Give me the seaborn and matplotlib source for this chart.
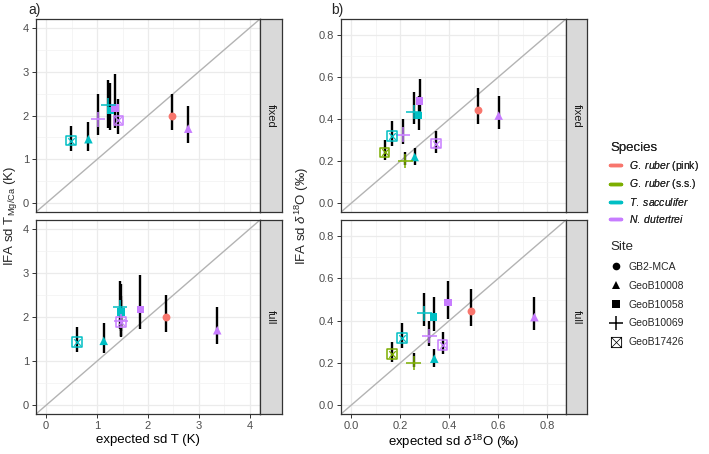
import matplotlib
matplotlib.use("Agg")
import matplotlib.pyplot as plt
from matplotlib.lines import Line2D
import numpy as np
import pandas as pd
import seaborn as sns

# ---- data ----
species_names = ["G. ruber (pink)", "G. ruber (s.s.)", "T. sacculifer", "N. dutertrei"]
site_names = ["GB2-MCA", "GeoB10008", "GeoB10058", "GeoB10069", "GeoB17426"]

# panel a: temperature
t_species = ["G. ruber (pink)", "T. sacculifer", "T. sacculifer", "T. sacculifer", "T. sacculifer",
             "N. dutertrei", "N. dutertrei", "N. dutertrei", "N. dutertrei"]
t_site = ["GB2-MCA", "GeoB10008", "GeoB10058", "GeoB10069", "GeoB17426",
          "GeoB10008", "GeoB10058", "GeoB10069", "GeoB17426"]
t_exp_fixed = [2.48, 0.83, 1.26, 1.22, 0.49, 2.79, 1.35, 1.02, 1.42]
t_exp_full = [2.35, 1.13, 1.47, 1.45, 0.60, 3.36, 1.85, 1.47, 1.47]
t_ifa = [2.00, 1.46, 2.11, 2.23, 1.43, 1.70, 2.17, 1.91, 1.89]
t_lo = [1.67, 1.18, 1.68, 1.72, 1.20, 1.38, 1.72, 1.55, 1.58]
t_hi = [2.50, 1.86, 2.74, 2.81, 1.77, 2.22, 2.95, 2.48, 2.38]

# panel b: d18O
o_species = ["G. ruber (pink)", "G. ruber (s.s.)", "G. ruber (s.s.)", "T. sacculifer", "T. sacculifer",
             "T. sacculifer", "T. sacculifer", "N. dutertrei", "N. dutertrei", "N. dutertrei", "N. dutertrei"]
o_site = ["GB2-MCA", "GeoB10069", "GeoB17426", "GeoB10008", "GeoB10058",
          "GeoB10069", "GeoB17426", "GeoB10008", "GeoB10058", "GeoB10069", "GeoB17426"]
o_exp_fixed = [0.516, 0.221, 0.136, 0.259, 0.275, 0.255, 0.166, 0.602, 0.279, 0.211, 0.347]
o_exp_full = [0.489, 0.255, 0.166, 0.339, 0.337, 0.298, 0.207, 0.748, 0.395, 0.319, 0.373]
o_ifa = [0.444, 0.200, 0.242, 0.220, 0.417, 0.435, 0.319, 0.417, 0.486, 0.327, 0.284]
o_lo = [0.375, 0.180, 0.205, 0.180, 0.350, 0.375, 0.270, 0.355, 0.410, 0.280, 0.240]
o_hi = [0.550, 0.245, 0.300, 0.265, 0.510, 0.530, 0.390, 0.510, 0.590, 0.400, 0.345]

palette = dict(zip(species_names, ["#F8766D", "#7CAE00", "#00BFC4", "#C77CFF"]))
legend_labels = [r"$\it{G.\ ruber}$ (pink)", r"$\it{G.\ ruber}$ (s.s.)",
                 r"$\it{T.\ sacculifer}$", r"$\it{N.\ dutertrei}$"]

sns.set_theme(style="white")
plt.rcParams["font.family"] = ["Liberation Sans", "DejaVu Sans"]
plt.rcParams["mathtext.fontset"] = "custom"
plt.rcParams["mathtext.rm"] = "Liberation Sans"
plt.rcParams["mathtext.it"] = "Liberation Sans:italic"

W, H = 709, 454
fig = plt.figure(figsize=(W / 100, H / 100), dpi=100)


def box(x0, y0, x1, y1):
    return [x0 / W, 1 - y1 / H, (x1 - x0) / W, (y1 - y0) / H]


def draw_points(ax, df, xcol):
    ax.vlines(df[xcol], df["lo"], df["hi"], color="black", lw=1.7, zorder=3)
    for site, g in df.groupby("site"):
        if site == "GB2-MCA":
            sns.scatterplot(data=g, x=xcol, y="ifa", hue="species", palette=palette, marker="o",
                            s=32, linewidth=0, legend=False, ax=ax, zorder=4)
        elif site == "GeoB10008":
            sns.scatterplot(data=g, x=xcol, y="ifa", hue="species", palette=palette, marker="^",
                            s=38, linewidth=0, legend=False, ax=ax, zorder=4)
        elif site == "GeoB10058":
            sns.scatterplot(data=g, x=xcol, y="ifa", hue="species", palette=palette, marker="s",
                            s=28, linewidth=0, legend=False, ax=ax, zorder=4)
        elif site == "GeoB10069":
            sns.scatterplot(data=g, x=xcol, y="ifa", hue="species", palette=palette, marker="+",
                            s=110, linewidth=1.1, legend=False, ax=ax, zorder=4)
        else:
            for _, r in g.iterrows():
                c = palette[r["species"]]
                ax.scatter(r[xcol], r["ifa"], marker="s", s=48, facecolor="none",
                           edgecolor=c, linewidth=1.1, zorder=4)
                ax.scatter(r[xcol], r["ifa"], marker="x", s=22, color=c,
                           linewidth=0.9, zorder=4)


def style_panel(ax, lim, ticks, minor, show_x):
    ax.set_xlim(lim)
    ax.set_ylim(lim)
    ax.set_xticks(ticks)
    ax.set_yticks(ticks)
    ax.set_xticks(minor, minor=True)
    ax.set_yticks(minor, minor=True)
    ax.grid(which="major", color="#EBEBEB", lw=0.9)
    ax.grid(which="minor", color="#F2F2F2", lw=0.5)
    ax.set_axisbelow(True)
    ax.axline((0, 0), slope=1, color="#B3B3B3", lw=1.0, zorder=2)
    for sp in ax.spines.values():
        sp.set_color("#333333")
        sp.set_linewidth(0.9)
    ax.tick_params(which="major", direction="out", length=3, width=0.7, color="#333333",
                   labelsize=8, labelcolor="#4D4D4D", left=True, bottom=True, pad=2)
    ax.tick_params(which="minor", length=0)
    ax.set_xlabel("")
    ax.set_ylabel("")
    if not show_x:
        ax.tick_params(axis="x", which="both", bottom=False, labelbottom=False)


def strip(rect, text):
    sa = fig.add_axes(rect)
    sa.set_facecolor("#D9D9D9")
    sa.set_xticks([])
    sa.set_yticks([])
    for sp in sa.spines.values():
        sp.set_color("#333333")
        sp.set_linewidth(0.9)
    sa.text(0.5, 0.5, text, rotation=270, ha="center", va="center", fontsize=8,
            color="#1A1A1A", transform=sa.transAxes)


dft = pd.DataFrame({"species": t_species, "site": t_site, "fixed": t_exp_fixed,
                    "full": t_exp_full, "ifa": t_ifa, "lo": t_lo, "hi": t_hi})
dfo = pd.DataFrame({"species": o_species, "site": o_site, "fixed": o_exp_fixed,
                    "full": o_exp_full, "ifa": o_ifa, "lo": o_lo, "hi": o_hi})

panels = [
    (dft, (36, 260, 282), (-0.2, 4.2), [0, 1, 2, 3, 4], [0.5, 1.5, 2.5, 3.5], ["0", "1", "2", "3", "4"]),
    (dfo, (341, 566, 587), (-0.042, 0.877), [0, 0.2, 0.4, 0.6, 0.8], [0.1, 0.3, 0.5, 0.7],
     ["0.0", "0.2", "0.4", "0.6", "0.8"]),
]
rows = [("fixed", 19, 212), ("full", 220, 414)]

axes = {}
for pi, (df, (x0, x1, x2), lim, ticks, minor, tlabels) in enumerate(panels):
    for ri, (facet, y0, y1) in enumerate(rows):
        ax = fig.add_axes(box(x0, y0, x1, y1))
        draw_points(ax, df, facet)
        style_panel(ax, lim, ticks, minor, ri == 1)
        ax.set_yticklabels(tlabels)
        if ri == 1:
            ax.set_xticklabels(tlabels)
        strip(box(x1, y0, x2, y1), facet)
        axes[(pi, ri)] = ax

axes[(0, 1)].set_xlabel("expected sd T (K)", fontsize=9.5, color="black", labelpad=2)
axes[(1, 1)].set_xlabel(r"expected sd $\delta^{18}$O (‰)", fontsize=9.5, color="black", labelpad=1)
fig.text(11 / W, 1 - 216 / H, r"IFA sd T$_{\mathrm{Mg/Ca}}$ (K)", rotation=90, ha="center",
         va="center", fontsize=9.5)
fig.text(302 / W, 1 - 216 / H, r"IFA sd $\delta^{18}$O (‰)", rotation=90, ha="center",
         va="center", fontsize=9.5)
fig.text(28 / W, 1 - 10 / H, "a)", fontsize=10, ha="left", va="center")
fig.text(331 / W, 1 - 10 / H, "b)", fontsize=10, ha="left", va="center")

# legends
sp_handles = [Line2D([], [], color=palette[s], lw=2.5) for s in species_names]
leg1 = fig.legend(sp_handles, legend_labels, title="Species", loc="upper left",
                  bbox_to_anchor=(610 / W, 1 - 142 / H), frameon=False, fontsize=7.5,
                  title_fontsize=9.5, handlelength=1.1, handletextpad=0.7, labelspacing=0.45,
                  borderpad=0, borderaxespad=0, alignment="left")
site_markers = [("o", 5.5, "black", 0), ("^", 6, "black", 0), ("s", 5.5, "black", 0),
                ("+", 10, "black", 1.1), ("$\\boxtimes$", 8, "black", 0)]
site_handles = [Line2D([], [], ls="none", marker=m, markersize=ms, color=c, markeredgewidth=mw)
                for m, ms, c, mw in site_markers]
leg2 = fig.legend(site_handles, site_names, title="Site", loc="upper left",
                  bbox_to_anchor=(610 / W, 1 - 241 / H), frameon=False, fontsize=7.5,
                  title_fontsize=9.5, handlelength=1.1, handletextpad=0.7, labelspacing=0.85,
                  borderpad=0, borderaxespad=0, alignment="left")
fig.add_artist(leg1)

fig.savefig("out.png", dpi=100)
